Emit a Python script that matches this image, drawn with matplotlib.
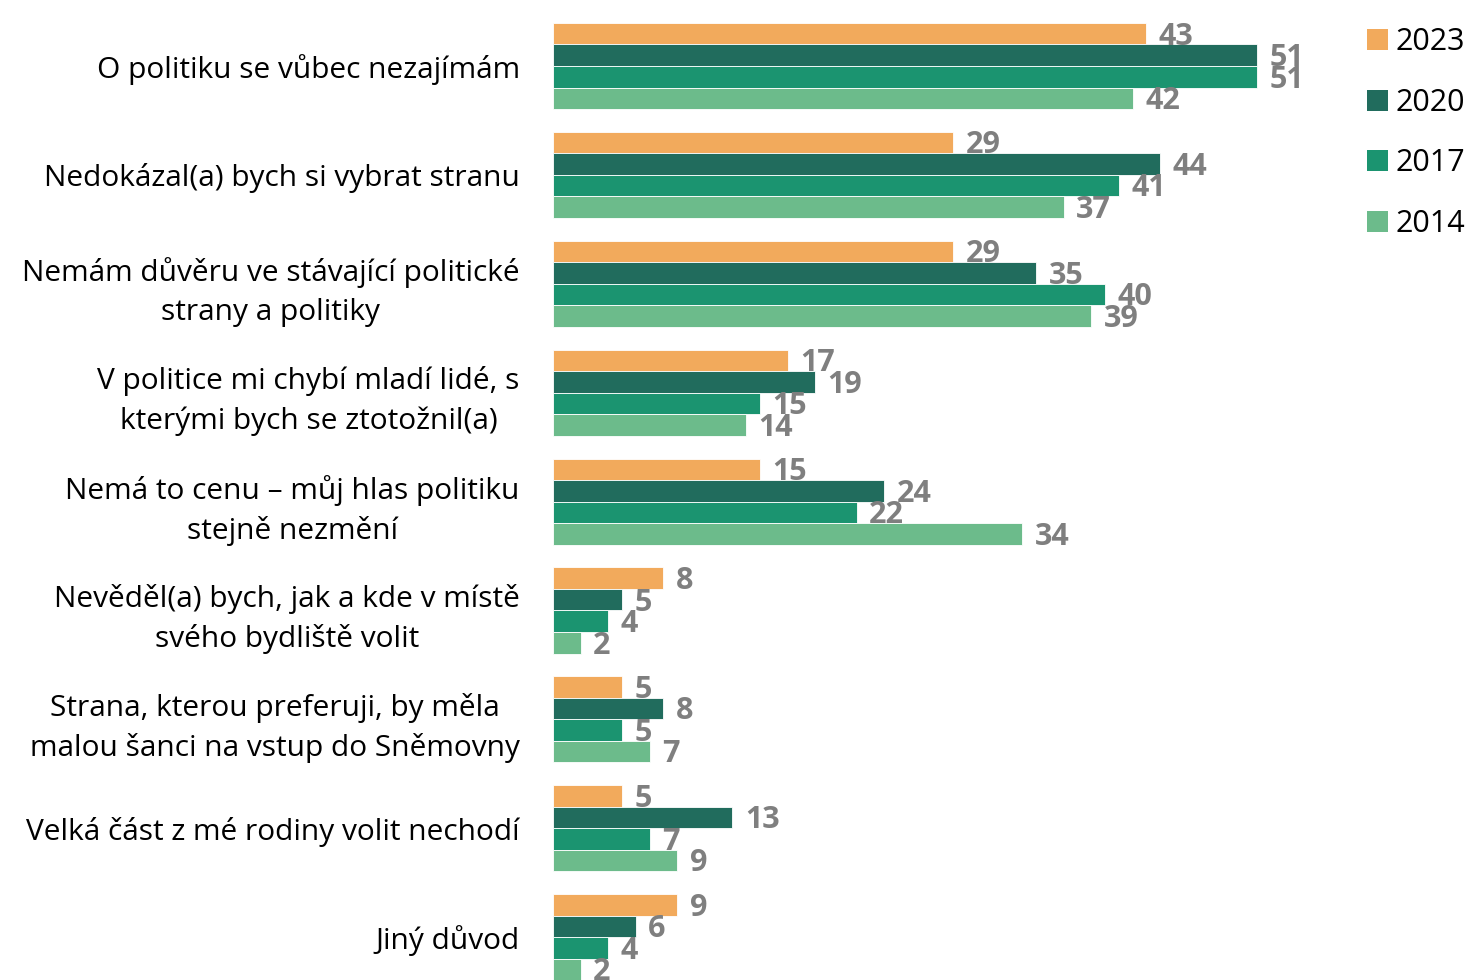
import matplotlib
matplotlib.use("Agg")
import matplotlib.pyplot as plt
from matplotlib.patches import Patch

plt.rcParams["font.family"] = ["Open Sans", "DejaVu Sans"]

CATEGORIES = [
    "O politiku se vůbec nezajímám",
    "Nedokázal(a) bych si vybrat stranu",
    "Nemám důvěru ve stávající politické\nstrany a politiky",
    "V politice mi chybí mladí lidé, s\nkterými bych se ztotožnil(a)",
    "Nemá to cenu – můj hlas politiku\nstejně nezmění",
    "Nevěděl(a) bych, jak a kde v místě\nsvého bydliště volit",
    "Strana, kterou preferuji, by měla\nmalou šanci na vstup do Sněmovny",
    "Velká část z mé rodiny volit nechodí",
    "Jiný důvod",
]
YEARS = ["2023", "2020", "2017", "2014"]
V2023 = [43, 29, 29, 17, 15, 8, 5, 5, 9]
V2020 = [51, 44, 35, 19, 24, 5, 8, 13, 6]
V2017 = [51, 41, 40, 15, 22, 4, 5, 7, 4]
V2014 = [42, 37, 39, 14, 34, 2, 7, 9, 2]
SERIES = [V2023, V2020, V2017, V2014]
COLORS = ["#F2AA5C", "#216C5D", "#1B9470", "#6CBB8B"]

W, H = 1478, 980
fig = plt.figure(figsize=(W / 100, H / 100), dpi=100)
ax = fig.add_axes([553 / W, 0, (1360 - 553) / W, 1])

bh = 0.1975
for k, (vals, col) in enumerate(zip(SERIES, COLORS)):
    ys = [i - 1.5 * bh + k * bh for i in range(len(CATEGORIES))]
    ax.barh(ys, vals, height=bh, color=col, edgecolor="white", linewidth=0.6)
    for y, v in zip(ys, vals):
        ax.annotate(str(v), (v, y), xytext=(9, -2), textcoords="offset points",
                    ha="left", va="center", fontsize=22, fontweight="bold",
                    color="#7F7F7F")

ax.set_xlim(0, (1360 - 553) / 13.8)
ax.set_ylim(8.393, -0.606)
ax.set_yticks(range(len(CATEGORIES)))
ax.set_yticklabels(CATEGORIES, fontsize=21.5, multialignment="center",
                   linespacing=1.45)
ax.tick_params(axis="y", length=0, pad=24)
ax.set_xticks([])
for s in ax.spines.values():
    s.set_visible(False)

handles = [Patch(facecolor=c, edgecolor="none") for c in COLORS]
fig.legend(handles, YEARS, loc="upper left", bbox_to_anchor=(1352 / W, 1 - 12 / H),
           frameon=False, fontsize=22, handlelength=0.68, handleheight=0.68,
           handletextpad=0.25, labelspacing=1.0, borderpad=0)

fig.savefig("out.png", dpi=100)
